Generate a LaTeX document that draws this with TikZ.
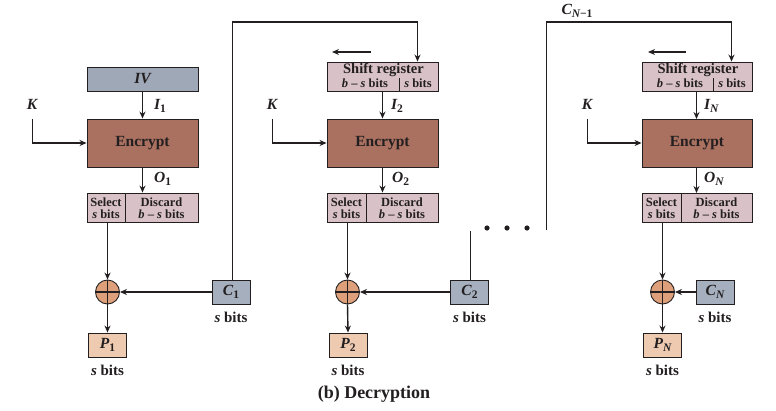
\documentclass[tikz,border=0pt]{standalone}
\usepackage{fontspec}
\setmainfont{Liberation Serif}
\usetikzlibrary{arrows.meta}
\definecolor{ivcol}{RGB}{158,168,182}
\definecolor{ccol}{RGB}{166,175,190}
\definecolor{enccol}{RGB}{170,112,96}
\definecolor{pinkcol}{RGB}{216,194,200}
\definecolor{xorcol}{RGB}{222,160,122}
\definecolor{pcol}{RGB}{238,202,176}
\definecolor{ink}{RGB}{35,31,32}
\newcommand\sbs[1]{\raisebox{-0.4ex}{\fontsize{11.5}{11.5}\selectfont\upshape #1}}
\newcommand\isbs[1]{\raisebox{-0.4ex}{\fontsize{11.5}{11.5}\selectfont\itshape #1}}
\tikzset{
  box/.style={draw=ink, line width=0.9pt, inner sep=0pt},
  ln/.style={draw=ink, line width=1.4pt},
  arr/.style={ln, -{Stealth[length=7pt,width=6pt]}},
  lbl/.style={font=\fontsize{15.5}{15.5}\selectfont\bfseries\itshape, inner sep=0pt, text=ink},
  btxt/.style={font=\fontsize{15.5}{15.5}\selectfont\bfseries, inner sep=0pt, text=ink},
  small/.style={font=\fontsize{12.5}{12}\selectfont\bfseries, inner sep=0pt, align=center, text=ink},
  sbits/.style={font=\fontsize{15}{15}\selectfont\bfseries, inner sep=0pt, text=ink},
  xor/.style={circle, draw=ink, line width=0.9pt, fill=xorcol, minimum size=24pt, inner sep=0pt,
    path picture={\draw[ink, line width=1.2pt] (path picture bounding box.north) -- (path picture bounding box.south)
      (path picture bounding box.west) -- (path picture bounding box.east);}},
}
\begin{document}
\begin{tikzpicture}[x=1pt,y=-1pt]
\useasboundingbox (0,0) rectangle (776,410);

% ---------- column 1 ----------
\node[box, fill=ivcol, minimum width=111pt, minimum height=24pt] (iv) at (142.5,79) {};
\node[lbl] (ivt) at (142.5,79) {IV};
\node[box, fill=enccol, minimum width=111pt, minimum height=48pt] (enc1) at (142.5,143) {};
\node[btxt] (enc1t) at (142.5,143) {Encrypt};
\node[box, fill=pinkcol, minimum width=111pt, minimum height=29pt] (sel1) at (142.5,207.5) {};
\draw[ink, line width=0.9pt] (125,193) -- (125,222);
\node[small] (sel1a) at (106,208) {Select\\\textit{s} bits};
\node[small] (sel1b) at (161.5,208) {Discard\\\textit{b} – \textit{s} bits};
\node[xor] (x1) at (107.5,292) {};
\node[box, fill=pcol, minimum width=38pt, minimum height=24pt] (p1) at (107.5,345) {};
\node[lbl] (p1t) at (107.5,345) {P\sbs{1}};
\node[sbits] (p1s) at (107.5,370) {\textit{s} bits};
\node[box, fill=ccol, minimum width=38pt, minimum height=24pt] (c1) at (231,292) {};
\node[lbl] (c1t) at (231,292) {C\sbs{1}};
\node[sbits] (c1s) at (231,317) {\textit{s} bits};
\node[lbl] (k1) at (32,104) {K};
\node[lbl, anchor=west] (i1) at (154,106) {I\sbs{1}};
\node[lbl, anchor=west] (o1) at (154,179) {O\sbs{1}};
\coordinate (k1a) at (32.5,119);
\draw[arr] (k1a) |- (enc1.west);
\draw[arr] (iv.south) -- (enc1.north);
\draw[arr] (enc1.south) -- (enc1.south |- sel1.north);
\draw[arr] (x1 |- sel1.south) -- (x1.north);
\draw[arr] (x1.south) -- (p1.north);
\draw[arr] (c1.west) -- (x1.east);

% ---------- column 2 ----------
\node[box, fill=pinkcol, minimum width=111pt, minimum height=29pt] (sr2) at (382.5,76.5) {};
\draw[ink, line width=0.9pt] (399,78) -- (399,91);
\node[btxt, font=\fontsize{14.5}{14.5}\selectfont\bfseries] (sr2t) at (383.5,70) {Shift register};
\node[small] (sr2a) at (365,83.5) {\textit{b} – \textit{s} bits};
\node[small] (sr2b) at (418,83.5) {\textit{s} bits};
\node[box, fill=enccol, minimum width=111pt, minimum height=48pt] (enc2) at (382.5,143) {};
\node[btxt] (enc2t) at (382.5,143) {Encrypt};
\node[box, fill=pinkcol, minimum width=111pt, minimum height=29pt] (sel2) at (382.5,207.5) {};
\draw[ink, line width=0.9pt] (366,193) -- (366,222);
\node[small] (sel2a) at (346.5,208) {Select\\\textit{s} bits};
\node[small] (sel2b) at (402,208) {Discard\\\textit{b} – \textit{s} bits};
\node[xor] (x2) at (347.5,292) {};
\node[box, fill=pcol, minimum width=38pt, minimum height=24pt] (p2) at (348,345) {};
\node[lbl] (p2t) at (348,345) {P\sbs{2}};
\node[sbits] (p2s) at (348,370) {\textit{s} bits};
\node[box, fill=ccol, minimum width=38pt, minimum height=24pt] (c2) at (469.5,292) {};
\node[lbl] (c2t) at (469.5,292) {C\sbs{2}};
\node[sbits] (c2s) at (469.5,317) {\textit{s} bits};
\node[lbl] (k2) at (272,104) {K};
\node[lbl, anchor=west] (i2) at (391,106) {I\sbs{2}};
\node[lbl, anchor=west] (o2) at (392,179) {O\sbs{2}};
\coordinate (k2a) at (272.5,119);
\coordinate (sh2a) at (371,52);
\coordinate (sh2b) at (332,52);
\coordinate (fb1a) at (232.5,22);
\coordinate (fb1b) at (417.5,22);
\coordinate (c2top) at (470.5,231);
\draw[arr] (k2a) |- (enc2.west);
\draw[arr] (sr2.south -| enc2) -- (enc2.north);
\draw[arr] (enc2.south) -- (enc2.south |- sel2.north);
\draw[arr] (x2 |- sel2.south) -- (x2.north);
\draw[arr] (x2.south) -- (p2.north);
\draw[arr] (c2.west) -- (x2.east);
\draw[arr] (sh2a) -- (sh2b);
\draw[arr] (c1.north -| fb1a) -- (fb1a) -- (fb1b) -- (fb1b |- sr2.north);
\draw[ln] (c2.north -| c2top) -- (c2top);

% dots
\foreach \xx/\nm in {487/d1,507/d2,527/d3}
  \fill[ink] (\xx,228) circle (2.6pt);

% ---------- column N ----------
\node[box, fill=pinkcol, minimum width=110pt, minimum height=29pt] (srn) at (697,76.5) {};
\draw[ink, line width=0.9pt] (713,78) -- (713,91);
\node[btxt, font=\fontsize{14.5}{14.5}\selectfont\bfseries] (srnt) at (698,70) {Shift register};
\node[small] (srna) at (680,83.5) {\textit{b} – \textit{s} bits};
\node[small] (srnb) at (732,83.5) {\textit{s} bits};
\node[box, fill=enccol, minimum width=110pt, minimum height=48pt] (encn) at (697,143) {};
\node[btxt] (encnt) at (697,143) {Encrypt};
\node[box, fill=pinkcol, minimum width=110pt, minimum height=29pt] (seln) at (697,207.5) {};
\draw[ink, line width=0.9pt] (681,193) -- (681,222);
\node[small] (selna) at (661.5,208) {Select\\\textit{s} bits};
\node[small] (selnb) at (716.5,208) {Discard\\\textit{b} – \textit{s} bits};
\node[xor] (xn) at (662.5,292) {};
\node[box, fill=pcol, minimum width=38pt, minimum height=24pt] (pn) at (662.5,345) {};
\node[lbl] (pnt) at (662.5,345) {P\isbs{N}};
\node[sbits] (pns) at (662.5,370) {\textit{s} bits};
\node[box, fill=ccol, minimum width=38pt, minimum height=24pt] (cn) at (715,292) {};
\node[lbl] (cnt) at (715,292) {C\isbs{N}};
\node[sbits] (cns) at (715,317) {\textit{s} bits};
\node[lbl] (kn) at (587,104) {K};
\node[lbl, anchor=west] (in) at (704,106) {I\isbs{N}};
\node[lbl, anchor=west] (on) at (704,179) {O\isbs{N}};
\node[lbl] (cnm1) at (577,11) {C\isbs{N}\sbs{\bfseries\upshape −1}};
\coordinate (kna) at (587.5,119);
\coordinate (shna) at (686,52);
\coordinate (shnb) at (648,52);
\coordinate (fbna) at (546.5,230);
\coordinate (fbnb) at (546.5,22);
\coordinate (fbnc) at (731.5,22);
\draw[arr] (kna) |- (encn.west);
\draw[arr] (srn.south -| 696.5,0) -- (696.5,119);
\draw[arr] (encn.south -| 696.5,0) -- (696.5,193);
\draw[arr] (xn |- seln.south) -- (xn.north);
\draw[arr] (xn.south) -- (pn.north);
\draw[arr] (cn.west) -- (xn.east);
\draw[arr] (shna) -- (shnb);
\draw[arr] (fbna) -- (fbnb) -- (fbnc) -- (fbnc |- srn.north);

\node[font=\fontsize{18}{18}\selectfont\bfseries, inner sep=0pt, text=ink] (cap) at (374,394) {(b) Decryption};
\end{tikzpicture}
\end{document}
